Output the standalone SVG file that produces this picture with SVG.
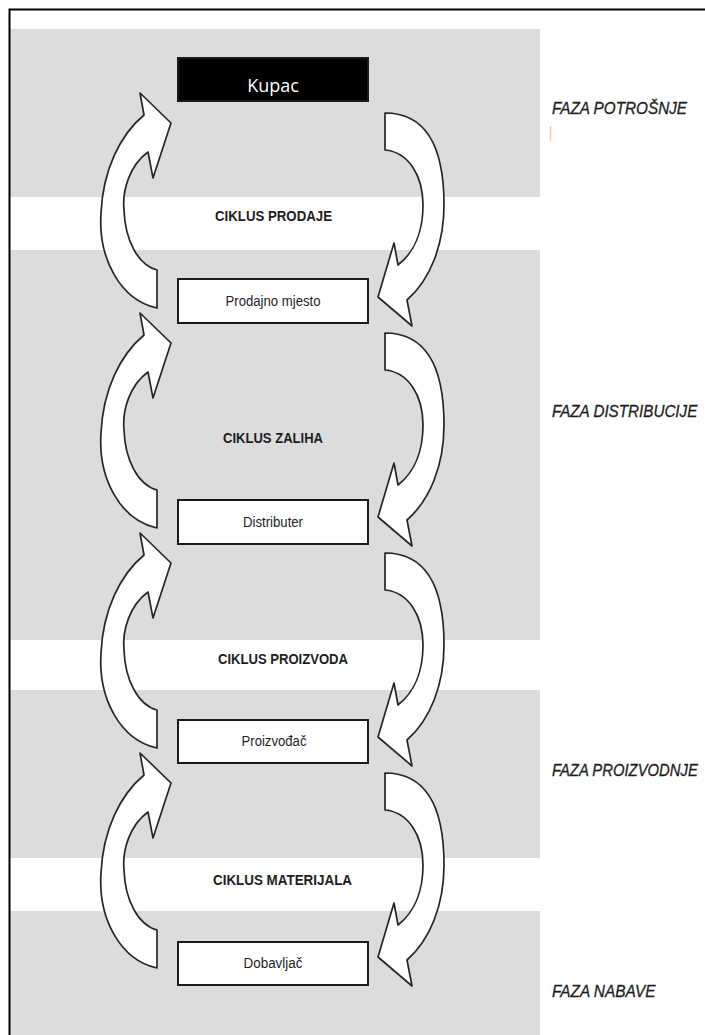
<svg xmlns="http://www.w3.org/2000/svg" xmlns:xlink="http://www.w3.org/1999/xlink" width="705" height="1035" viewBox="0 0 705 1035">
<style>
.band{fill:#dcdcdc}
.box{fill:#ffffff;stroke:#1a1a1a;stroke-width:2}
.blk{fill:#000000;stroke:#1a1a1a;stroke-width:2}
.arr{fill:#ffffff;stroke:#262626;stroke-width:1.7;stroke-linejoin:round}
.nl{font-family:"Liberation Sans",Arial,sans-serif;font-size:14px;fill:#1e1e1e;text-anchor:middle}
.cl{font-family:"Liberation Sans",Arial,sans-serif;font-size:14.5px;font-weight:bold;fill:#1e1e1e}
.ph{font-family:"Liberation Sans",Arial,sans-serif;font-size:17px;font-style:italic;fill:#1e1e1e;stroke:#1e1e1e;stroke-width:0.3}
.kup{font-family:"Open Sans","Noto Sans",sans-serif;font-size:18px;fill:#ffffff;text-anchor:middle}
</style>
<defs>
<path id="arrL" class="arr" d="M157,308 C120,300 98,258 101,213 C103,170 120,135 144,115 L140,93 L171,123 L153,178 L148,152 C130,165 122,190 124,210 C125,240 138,265 157,270 Z"/>
<path id="arrR" class="arr" d="M385,113 C428,113 444,150 444,205 C444,245 430,280 407,300 L412,326 L378,297 L394,243 L398,265 C415,252 423,230 423,205 C423,175 408,152 385,150 Z"/>
</defs>
<rect x="0" y="0" width="705" height="1035" fill="#ffffff"/>
<g id="bands">
<rect class="band" x="10" y="29" width="530" height="168"/>
<rect class="band" x="10" y="250" width="530" height="390"/>
<rect class="band" x="10" y="690" width="530" height="168"/>
<rect class="band" x="10" y="911" width="530" height="124"/>
</g>
<rect x="9.5" y="9.5" width="705" height="1040" fill="none" stroke="#000" stroke-width="2"/>
<g id="connectors">
<use xlink:href="#arrL" href="#arrL"/>
<use xlink:href="#arrR" href="#arrR"/>
<use xlink:href="#arrL" href="#arrL" transform="translate(0,220)"/>
<use xlink:href="#arrR" href="#arrR" transform="translate(0,220)"/>
<use xlink:href="#arrL" href="#arrL" transform="translate(0,440)"/>
<use xlink:href="#arrR" href="#arrR" transform="translate(0,440)"/>
<use xlink:href="#arrL" href="#arrL" transform="translate(0,660)"/>
<use xlink:href="#arrR" href="#arrR" transform="translate(0,660)"/>
</g>
<g id="kupac">
<rect class="blk" x="178" y="58" width="190" height="43"/>
<text class="kup" x="273" y="92">Kupac</text>
</g>
<g id="prodajno-mjesto">
<rect class="box" x="178" y="279" width="190" height="44"/>
<text class="nl" x="273" y="306" textLength="95" lengthAdjust="spacingAndGlyphs">Prodajno mjesto</text>
</g>
<g id="distributer">
<rect class="box" x="178" y="500" width="190" height="44"/>
<text class="nl" x="273" y="527" textLength="60" lengthAdjust="spacingAndGlyphs">Distributer</text>
</g>
<g id="proizvodjac">
<rect class="box" x="178" y="720" width="190" height="43"/>
<text class="nl" x="274" y="746" textLength="65" lengthAdjust="spacingAndGlyphs">Proizvođač</text>
</g>
<g id="dobavljac">
<rect class="box" x="178" y="942" width="190" height="43"/>
<text class="nl" x="273" y="968" textLength="59" lengthAdjust="spacingAndGlyphs">Dobavljač</text>
</g>
<g id="cycle-labels">
<text class="cl" x="215" y="221" textLength="117" lengthAdjust="spacingAndGlyphs">CIKLUS PRODAJE</text>
<text class="cl" x="223" y="443" textLength="100" lengthAdjust="spacingAndGlyphs">CIKLUS ZALIHA</text>
<text class="cl" x="218" y="664" textLength="130" lengthAdjust="spacingAndGlyphs">CIKLUS PROIZVODA</text>
<text class="cl" x="213" y="885" textLength="139" lengthAdjust="spacingAndGlyphs">CIKLUS MATERIJALA</text>
</g>
<g id="phase-labels">
<text class="ph" transform="matrix(0.9,0,0,1,552,114)" x="0" y="0">FAZA POTROŠNJE</text>
<text class="ph" transform="matrix(0.895,0,0,1,552,417)" x="0" y="0">FAZA DISTRIBUCIJE</text>
<text class="ph" transform="matrix(0.873,0,0,1,552,776)" x="0" y="0">FAZA PROIZVODNJE</text>
<text class="ph" transform="matrix(0.905,0,0,1,552,997)" x="0" y="0">FAZA NABAVE</text>
</g>
<line x1="550.5" y1="126" x2="550.5" y2="141" stroke="#f3c27e" stroke-width="1.5" opacity="0.8"/>
</svg>
